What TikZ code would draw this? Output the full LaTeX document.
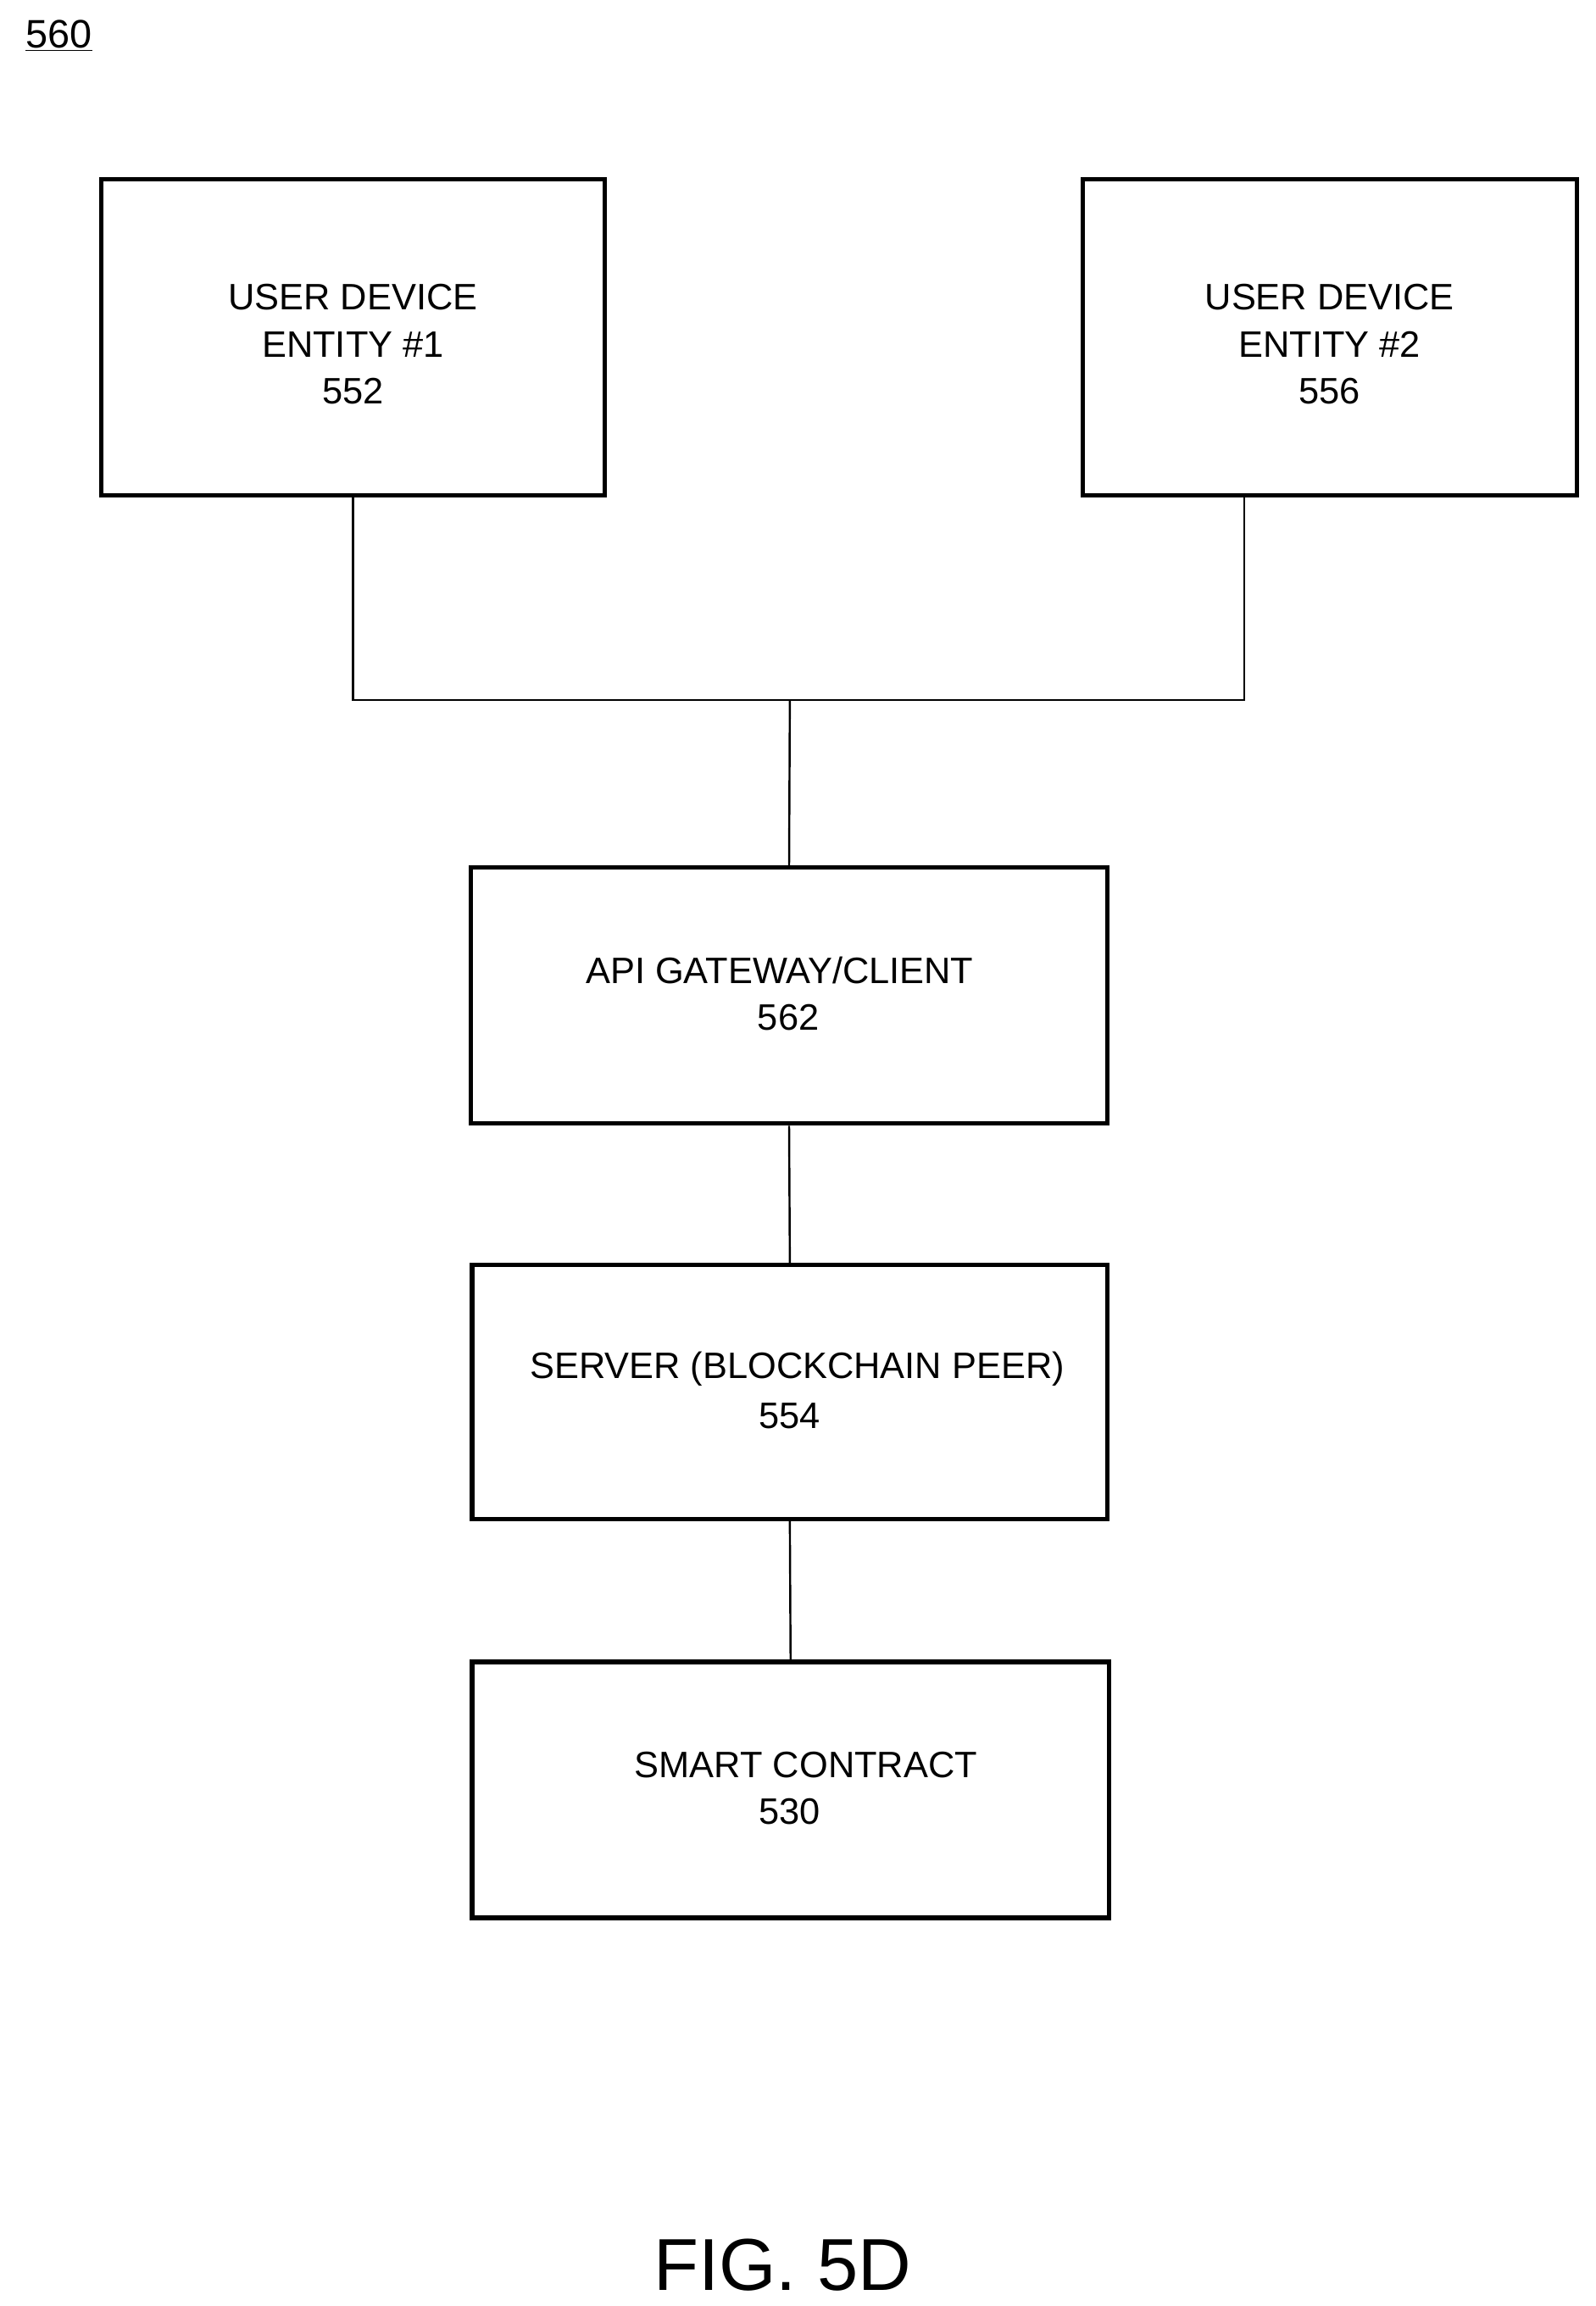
\documentclass[tikz,border=0pt]{standalone}
\usepackage{fontspec}
\setmainfont{Liberation Sans}
\begin{document}
\begin{tikzpicture}[x=1pt,y=-1pt,
  box/.style={draw,line width=3pt},
  lbl/.style={font=\fontsize{25}{32}\selectfont,align=center},
  con/.style={line width=1.4pt}]
\useasboundingbox (0,0) rectangle (1085,1568);
\node[box,minimum width=342pt,minimum height=215pt] (b1) at (240,229.5) {};
\node[lbl] at (240,234) {USER DEVICE\\ENTITY \#1\\552};
\node[box,minimum width=336pt,minimum height=215pt] (b2) at (904,229.5) {};
\node[lbl] at (904,234) {USER DEVICE\\ENTITY \#2\\556};
\node[box,minimum width=433pt,minimum height=174pt] (api) at (536.5,677) {};
\node[lbl] at (530,660) {API GATEWAY/CLIENT};
\node[lbl] at (536,692) {562};
\node[box,minimum width=432pt,minimum height=173pt] (srv) at (537,946.5) {};
\node[lbl] at (542,931) {SERVER (BLOCKCHAIN PEER)};
\node[lbl] at (537,963) {554};
\node[box,minimum width=433pt,minimum height=174pt] (sc) at (537.5,1217) {};
\node[lbl] at (548,1200) {SMART CONTRACT};
\node[lbl] at (537,1232) {530};
\coordinate (j) at (537,476);
\draw[con] (240,337) |- (j) -| (846,337);
\draw[con] (j) -- (api.north);
\draw[con] (api.south) -- (srv.north);
\draw[con] (srv.south) -- (sc.north);
\node[lbl,font=\fontsize{27}{32}\selectfont] (n560) at (40,24) {\underline{560}};
\node[font=\fontsize{50}{60}\selectfont] (fig) at (532,1540) {FIG. 5D};
\end{tikzpicture}
\end{document}
